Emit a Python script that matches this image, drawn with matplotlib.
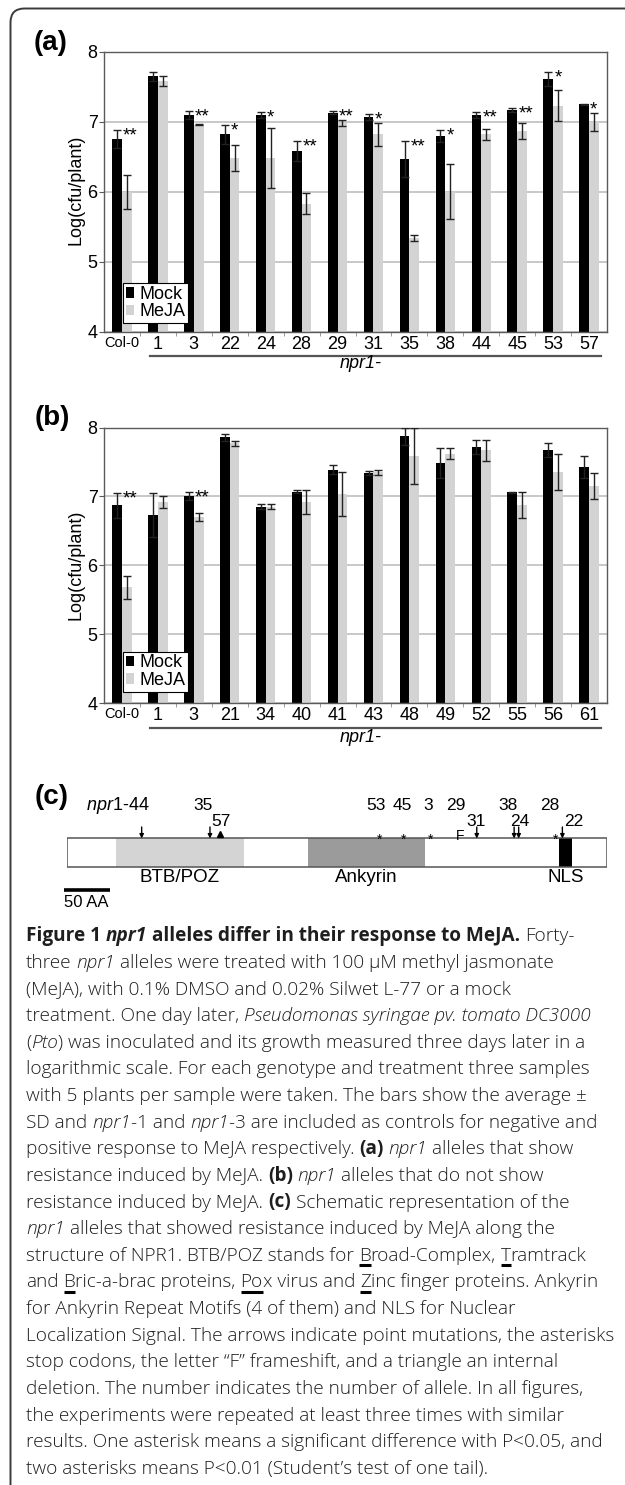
import matplotlib
matplotlib.use('Agg')
import matplotlib.pyplot as plt
import numpy as np
import matplotlib.transforms as mtransforms
from matplotlib.patches import Rectangle, FancyBboxPatch, Patch
from matplotlib.lines import Line2D
from matplotlib.font_manager import FontProperties

W, H = 625, 1485
plt.rcParams['font.family'] = ['Liberation Sans', 'DejaVu Sans']
plt.rcParams['mathtext.fontset'] = 'custom'
plt.rcParams['mathtext.it'] = 'Liberation Sans:italic'
plt.rcParams['mathtext.rm'] = 'Liberation Sans'

# ---------------- data ----------------
a_labels = ['Col-0', '1', '3', '22', '24', '28', '29', '31', '35', '38', '44', '45', '53', '57']
a_mock = [6.75, 7.65, 7.10, 6.82, 7.10, 6.58, 7.13, 7.07, 6.47, 6.80, 7.10, 7.17, 7.62, 7.25]
a_mock_sd = [0.13, 0.07, 0.06, 0.14, 0.04, 0.14, 0.02, 0.04, 0.26, 0.09, 0.04, 0.03, 0.10, 0.01]
a_meja = [6.00, 7.59, 6.96, 6.48, 6.48, 5.83, 6.98, 6.82, 5.34, 6.00, 6.82, 6.87, 7.23, 7.00]
a_meja_sd = [0.24, 0.07, 0.01, 0.19, 0.43, 0.15, 0.04, 0.17, 0.04, 0.39, 0.08, 0.11, 0.22, 0.13]
a_sig = ['**', '', '**', '*', '*', '**', '**', '*', '**', '*', '**', '**', '*', '*']

b_labels = ['Col-0', '1', '3', '21', '34', '40', '41', '43', '48', '49', '52', '55', '56', '61']
b_mock = [6.87, 6.73, 7.01, 7.86, 6.85, 7.07, 7.39, 7.34, 7.87, 7.48, 7.72, 7.06, 7.67, 7.43]
b_mock_sd = [0.18, 0.32, 0.06, 0.05, 0.04, 0.02, 0.06, 0.03, 0.13, 0.22, 0.10, 0.01, 0.10, 0.16]
b_meja = [5.68, 6.92, 6.70, 7.77, 6.85, 6.92, 7.04, 7.35, 7.59, 7.62, 7.67, 6.87, 7.35, 7.15]
b_meja_sd = [0.17, 0.09, 0.06, 0.04, 0.04, 0.17, 0.32, 0.04, 0.41, 0.08, 0.15, 0.19, 0.26, 0.19]
b_sig = ['**', '', '**', '', '', '', '', '', '', '', '', '', '', '']

series_names = ['Mock', 'MeJA']

# panel c: NPR1 schematic (amino-acid coordinates)
protein_len = 593
domain_names = ['BTB/POZ', 'Ankyrin', 'NLS']
domain_start = [54, 265, 540]
domain_end = [194, 393, 555]
mut_alleles = ['44', '35', '57', '53', '45', '3', '29', '31', '38', '24', '28', '22']
mut_pos = [82, 157, 168, 343, 370, 399, 432, 450, 491, 496, 537, 544]
mut_type = ['arrow', 'arrow', 'triangle', 'stop', 'stop', 'stop', 'frameshift',
            'arrow', 'arrow', 'arrow', 'stop', 'arrow']
scale_aa = 50

# ---------------- layout helpers ----------------
fig = plt.figure(figsize=(W / 100, H / 100), dpi=100)
fig.patch.set_facecolor('white')
PX = mtransforms.Affine2D().scale(1, -1).translate(0, H)  # (x, y-from-top) pixels


def axes_px(left, top, right, bottom):
    return fig.add_axes([left / W, 1 - bottom / H, (right - left) / W, (bottom - top) / H])


MOCK_C = '#000000'
MEJA_C = '#d3d3d3'
SPINE_C = '#5a5a5a'


def bar_panel(ax, labels, mock, mock_sd, meja, meja_sd, sig, leg_anchor, line_y, label_y):
    n = len(labels)
    x = np.arange(n) + 0.5
    w = 0.27
    ax.bar(x - w / 2, mock, w, color=MOCK_C, zorder=2, label=series_names[0])
    ax.bar(x + w / 2, meja, w, color=MEJA_C, zorder=2, label=series_names[1])
    ax.errorbar(x - w / 2, mock, yerr=mock_sd, fmt='none', ecolor='#222222',
                elinewidth=1.0, capsize=2.8, capthick=1.0, zorder=3)
    ax.errorbar(x + w / 2, meja, yerr=meja_sd, fmt='none', ecolor='#222222',
                elinewidth=1.0, capsize=2.8, capthick=1.0, zorder=3)
    for i, s in enumerate(sig):
        if s:
            ax.annotate(s, xy=(x[i] + 0.03, mock[i] + mock_sd[i]), xytext=(0, -7.5),
                        textcoords='offset points', ha='left', va='baseline',
                        fontsize=13.5, zorder=4)
    ax.set_xlim(0, n)
    ax.set_ylim(4, 8)
    ax.set_yticks([4, 5, 6, 7, 8])
    ax.yaxis.grid(True, color='#c4c4c4', lw=1.3)
    ax.set_axisbelow(True)
    for sp in ax.spines.values():
        sp.set_color(SPINE_C)
        sp.set_linewidth(1.0)
    ax.tick_params(axis='y', labelsize=13, length=3.5, color=SPINE_C, pad=1)
    ax.set_xticks(x)
    ax.set_xticklabels(labels, fontsize=13)
    ax.get_xticklabels()[0].set_fontsize(10.5)
    ax.set_xticks(np.arange(1, n), minor=True)
    ax.tick_params(axis='x', which='major', length=0, pad=3)
    ax.tick_params(axis='x', which='minor', length=3, color='#888888')
    handles = [Patch(facecolor=MOCK_C), Patch(facecolor=MEJA_C)]
    leg = ax.legend(handles, series_names, loc='lower left', bbox_to_anchor=leg_anchor,
                    frameon=True, fancybox=False, edgecolor='black', framealpha=1,
                    fontsize=13, handlelength=0.45, handleheight=0.55, handletextpad=0.3,
                    borderpad=0.15, labelspacing=0.05, borderaxespad=0)
    leg.get_frame().set_linewidth(0.8)
    leg.set_zorder(5)
    tr = mtransforms.blended_transform_factory(ax.transData, PX)
    ax.add_artist(Line2D([1.27, 13.82], [line_y, line_y], transform=tr, color='#555555',
                         lw=1.6, clip_on=False))
    ax.text(7.15, label_y, 'npr1-', transform=tr, style='italic', ha='center',
            va='center', fontsize=13, clip_on=False)


# panel (a)
axa = axes_px(104, 52, 607, 331.5)
bar_panel(axa, a_labels, a_mock, a_mock_sd, a_meja, a_meja_sd, a_sig,
          (0.038, 0.03), 356, 363)
fig.text(76, 190, 'Log(cfu/plant)', transform=PX, rotation=90, ha='center', va='center', fontsize=13)
fig.text(34, 43, '(a)', transform=PX, ha='left', va='center', fontsize=20, weight='bold')

# panel (b)
axb = axes_px(104, 427.5, 607, 703)
bar_panel(axb, b_labels, b_mock, b_mock_sd, b_meja, b_meja_sd, b_sig,
          (0.038, 0.04), 728, 738)
fig.text(76, 565, 'Log(cfu/plant)', transform=PX, rotation=90, ha='center', va='center', fontsize=13)
fig.text(35, 418, '(b)', transform=PX, ha='left', va='center', fontsize=20, weight='bold')

# panel (c)
fig.text(35, 797, '(c)', transform=PX, ha='left', va='center', fontsize=20, weight='bold')
axc = axes_px(67, 790, 607, 912)
axc.set_xlim(0, protein_len)
axc.set_ylim(912, 790)
axc.axis('off')
BAR_TOP, BAR_H = 838, 29
dom_colors = ['#d4d4d4', '#9b9b9b', '#000000']
axc.add_patch(Rectangle((0, BAR_TOP), protein_len, BAR_H, fc='white', ec='none'))
for nm, s, e, c in zip(domain_names, domain_start, domain_end, dom_colors):
    axc.add_patch(Rectangle((s, BAR_TOP), e - s, BAR_H, fc=c, ec='none'))
    axc.text((s + e) / 2, 878, nm, ha='center', va='center', fontsize=13.5)
axc.add_patch(Rectangle((0, BAR_TOP), protein_len, BAR_H, fc='none', ec='#555555', lw=1.1))

label_row = [0, 0, 1, 0, 0, 0, 0, 1, 0, 1, 0, 1]
label_dx_px = [8, -7, 1, -3, -2, -2, -5, -1, -6, 1, -6, 11]
row_y = [806, 821]
for al, pos, tp, rw, dx in zip(mut_alleles, mut_pos, mut_type, label_row, label_dx_px):
    if tp == 'arrow':
        axc.annotate('', xy=(pos, BAR_TOP + 0.5), xytext=(pos, 827),
                     arrowprops=dict(arrowstyle='-|>', color='black', lw=1.0,
                                     mutation_scale=6, shrinkA=0, shrinkB=0))
    elif tp == 'triangle':
        axc.plot([pos], [834], marker='^', ms=5, color='black', clip_on=False)
    elif tp == 'stop':
        axc.text(pos, 844, '*', ha='center', va='baseline', fontsize=10)
    elif tp == 'frameshift':
        axc.text(pos, 840, 'F', ha='center', va='baseline', fontsize=10)
    if al == '44':
        axc.annotate(r'$\mathit{npr1}$-' + al, xy=(pos, row_y[rw]), xytext=(dx * 0.72, 0),
                     textcoords='offset points', ha='right', va='center', fontsize=13)
    else:
        axc.annotate(al, xy=(pos, row_y[rw]), xytext=(dx * 0.72, 0),
                     textcoords='offset points', ha='center', va='center', fontsize=12.5)

axc.add_artist(Line2D([-3, -3 + scale_aa], [890, 890], color='black', lw=2.6,
                      solid_capstyle='butt', clip_on=False))
axc.text(-3, 903, '%d AA' % scale_aa, ha='left', va='center', fontsize=12)

# ---------------- caption ----------------
caption = [
    [("Figure 1 ", "b"), ("npr1", "bi"), (" alleles differ in their response to MeJA.", "b"), (" Forty-", "r")],
    [("three ", "r"), ("npr1", "i"), (" alleles were treated with 100 µM methyl jasmonate", "r")],
    [("(MeJA), with 0.1% DMSO and 0.02% Silwet L-77 or a mock", "r")],
    [("treatment. One day later, ", "r"), ("Pseudomonas syringae pv. tomato DC3000", "i")],
    [("(", "r"), ("Pto", "i"), (") was inoculated and its growth measured three days later in a", "r")],
    [("logarithmic scale. For each genotype and treatment three samples", "r")],
    [("with 5 plants per sample were taken. The bars show the average ±", "r")],
    [("SD and ", "r"), ("npr1", "i"), ("-1 and ", "r"), ("npr1", "i"), ("-3 are included as controls for negative and", "r")],
    [("positive response to MeJA respectively. ", "r"), ("(a)", "b"), (" ", "r"), ("npr1", "i"), (" alleles that show", "r")],
    [("resistance induced by MeJA. ", "r"), ("(b)", "b"), (" ", "r"), ("npr1", "i"), (" alleles that do not show", "r")],
    [("resistance induced by MeJA. ", "r"), ("(c)", "b"), (" Schematic representation of the", "r")],
    [("npr1", "i"), (" alleles that showed resistance induced by MeJA along the", "r")],
    [("structure of NPR1. BTB/POZ stands for ", "r"), ("B", "u"), ("road-Complex, ", "r"), ("T", "u"), ("ramtrack", "r")],
    [("and ", "r"), ("B", "u"), ("ric-a-brac proteins, ", "r"), ("Po", "u"), ("x virus and ", "r"), ("Z", "u"), ("inc finger proteins. Ankyrin", "r")],
    [("for Ankyrin Repeat Motifs (4 of them) and NLS for Nuclear", "r")],
    [("Localization Signal. The arrows indicate point mutations, the asterisks", "r")],
    [("stop codons, the letter “F” frameshift, and a triangle an internal", "r")],
    [("deletion. The number indicates the number of allele. In all figures,", "r")],
    [("the experiments were repeated at least three times with similar", "r")],
    [("results. One asterisk means a significant difference with P<0.05, and", "r")],
    [("two asterisks means P<0.01 (Student’s test of one tail).", "r")],
]

CAP_FAMILY = ['Open Sans', 'DejaVu Sans']
renderer = fig.canvas.get_renderer()


def cap_prop(st, size):
    return FontProperties(family=CAP_FAMILY, size=size,
                          weight='bold' if 'b' in st else 'light',
                          style='italic' if 'i' in st else 'normal')


def tw(s, prop):
    w1, _, _ = renderer.get_text_width_height_descent('|' + s + '|', prop, ismath=False)
    w2, _, _ = renderer.get_text_width_height_descent('||', prop, ismath=False)
    return w1 - w2


def line_width(runs, size):
    return sum(tw(t, cap_prop(s, size)) for t, s in runs)


base = 10.0
target = 589.0
cap_size = base * target / line_width(caption[15], base)

x0, y0, dy = 26, 941, 26.65
for k, runs in enumerate(caption):
    y = y0 + k * dy
    x = x0
    for txt, st in runs:
        prop = cap_prop(st, cap_size)
        lead = len(txt) - len(txt.lstrip(' '))
        xd = x + (tw(' ' * lead, prop) if lead else 0)
        core = txt.strip(' ')
        if core:
            fig.text(xd, y, core, transform=PX, fontproperties=prop, ha='left',
                     va='baseline', color='#1e1e1e')
        if st == 'u':
            fig.add_artist(Line2D([xd, xd + tw(core, prop)], [y + 4.5, y + 4.5], transform=PX,
                                  color='black', lw=2.2, solid_capstyle='butt'))
        x += tw(txt, prop)

# rounded outer frame (cut by image edges on the right and bottom)
frame = FancyBboxPatch((10.5, 8.5), 700, 1600, boxstyle='round,pad=0,rounding_size=14',
                       transform=PX, fc='none', ec='#3a3a3a', lw=1.4)
fig.add_artist(frame)

fig.savefig('out.png', dpi=100, facecolor='white')
